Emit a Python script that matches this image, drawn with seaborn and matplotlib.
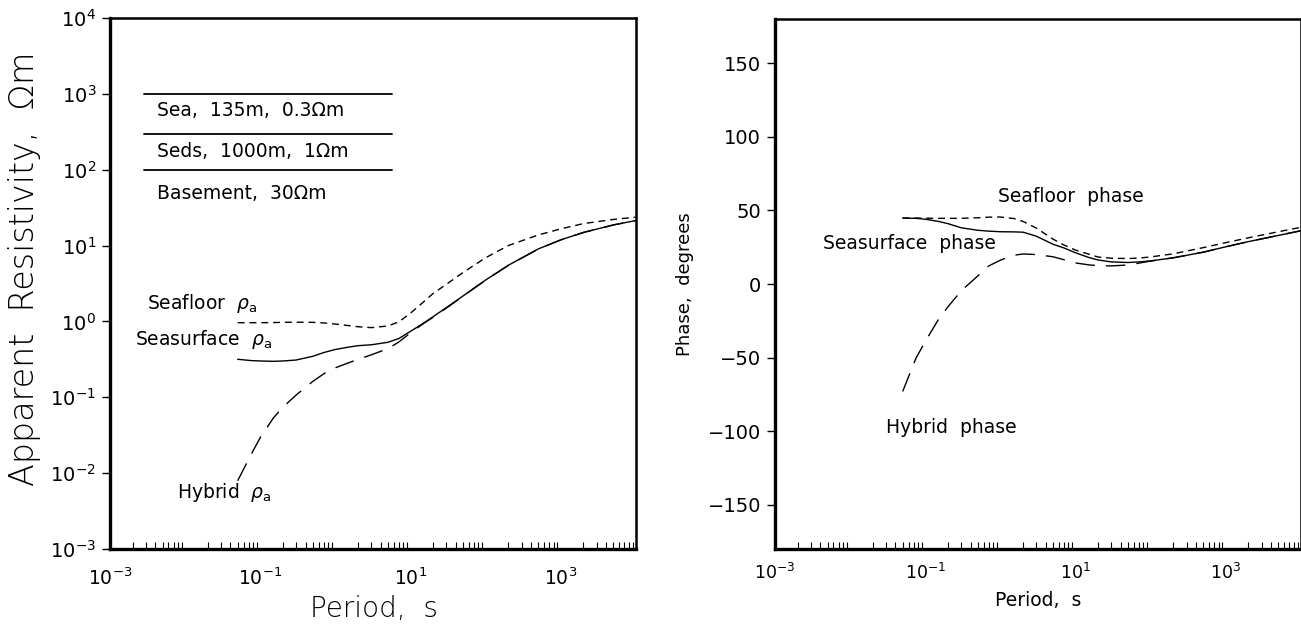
import matplotlib
matplotlib.use("Agg")
import matplotlib.pyplot as plt
import matplotlib.ticker as mticker
import numpy as np
import pandas as pd
import seaborn as sns

# ---------------- data ----------------
periods = [0.05, 0.075, 0.1, 0.15, 0.2, 0.3, 0.5, 0.7, 1, 1.5, 2, 3, 5, 7, 10,
           15, 20, 30, 50, 70, 100, 200, 500, 1000, 2000, 5000, 10000]

rho_seafloor = [0.962, 0.962, 0.962, 0.966, 0.973, 0.977, 0.973, 0.955, 0.923,
                0.881, 0.851, 0.828, 0.871, 0.989, 1.288, 1.82, 2.34, 3.09,
                4.42, 5.50, 6.92, 10.0, 13.8, 16.6, 19.5, 22.1, 23.7]
rho_seasurface = [0.317, 0.305, 0.301, 0.298, 0.301, 0.310, 0.347, 0.389, 0.427,
                  0.459, 0.479, 0.492, 0.531, 0.596, 0.741, 0.955, 1.156, 1.524,
                  2.17, 2.75, 3.52, 5.50, 9.02, 11.9, 14.9, 18.7, 21.4]
rho_hybrid = [0.00794, 0.0174, 0.0295, 0.0537, 0.0741, 0.107, 0.162, 0.204,
              0.245, 0.285, 0.316, 0.363, 0.437, 0.537, 0.708, 0.944, 1.135,
              1.50, 2.15, 2.73, 3.50, 5.48, 9.0, 11.9, 14.9, 18.7, 21.4]

phase_seafloor = [44.8, 44.8, 44.7, 44.6, 44.6, 44.6, 45.0, 45.4, 45.5, 44.5,
                  42.5, 38.0, 30.5, 26.5, 23.0, 20.3, 18.3, 17.5, 17.3, 17.6,
                  18.4, 20.5, 24.7, 28.1, 31.4, 35.5, 38.5]
phase_seasurface = [44.8, 44.6, 44.0, 42.5, 41.0, 38.2, 36.5, 35.9, 35.5, 35.4,
                    35.2, 32.5, 27.0, 24.5, 21.2, 18.0, 16.3, 15.0, 14.6, 15.0,
                    15.7, 17.8, 21.6, 25.3, 28.8, 33.0, 36.2]
phase_hybrid = [-73.0, -50.5, -39.0, -24.0, -15.5, -4.7, 5.5, 12.3, 16.2, 19.5,
                20.4, 20.0, 18.5, 16.5, 14.3, 13.0, 12.4, 12.3, 12.9, 14.2,
                15.6, 17.8, 21.6, 25.3, 28.8, 33.0, 36.2]

layer_boundaries = [1000, 300, 100]
layer_texts = ["Sea,  135m,  0.3\u03a9m", "Seds,  1000m,  1\u03a9m", "Basement,  30\u03a9m"]

res_ticks = [1e-3, 1e-2, 1e-1, 1e0, 1e1, 1e2, 1e3, 1e4]
period_ticks = [1e-3, 1e-1, 1e1, 1e3]
phase_ticks = [-150, -100, -50, 0, 50, 100, 150]

df = pd.DataFrame({
    "period": periods,
    "rho_seafloor": rho_seafloor, "rho_seasurface": rho_seasurface,
    "rho_hybrid": rho_hybrid,
    "ph_seafloor": phase_seafloor, "ph_seasurface": phase_seasurface,
    "ph_hybrid": phase_hybrid,
})

# ---------------- style ----------------
sns.set_style("white")
plt.rcParams["font.family"] = ["DejaVu Sans"]
plt.rcParams["mathtext.fontset"] = "dejavusans"
for key in ("text.color", "axes.labelcolor", "xtick.color", "ytick.color",
            "axes.edgecolor"):
    plt.rcParams[key] = "black"

W, H = 1301, 624
fig = plt.figure(figsize=(W / 100, H / 100), dpi=100)
ax1 = fig.add_axes([110 / W, 75 / H, 526 / W, 531 / H])
ax2 = fig.add_axes([775 / W, 75 / H, 526 / W, 530 / H])

short_dash = (0, (5, 3.5))
long_dash = (0, (14, 8))
lw = 1.0
txt_size = 13.5

# ---------------- left panel ----------------
sns.lineplot(data=df, x="period", y="rho_seafloor", ax=ax1, color="black",
             lw=lw, linestyle=short_dash, estimator=None, sort=False)
sns.lineplot(data=df, x="period", y="rho_seasurface", ax=ax1, color="black",
             lw=lw, linestyle="-", estimator=None, sort=False)
sns.lineplot(data=df, x="period", y="rho_hybrid", ax=ax1, color="black",
             lw=lw, linestyle=long_dash, estimator=None, sort=False)

ax1.set_xscale("log")
ax1.set_yscale("log")
ax1.set_xlim(1e-3, 1e4)
ax1.set_ylim(1e-3, 1e4)

for yb in layer_boundaries:
    ax1.axhline(yb, xmin=34 / 526, xmax=282 / 526, color="black", lw=1.3)
for txt, yf in zip(layer_texts, [0.825, 0.748, 0.669]):
    ax1.text(0.089, yf, txt, transform=ax1.transAxes, fontsize=txt_size,
             va="center", ha="left")

ax1.text(0.070, 0.463, r"Seafloor  $\rho_{\rm a}$", transform=ax1.transAxes,
         fontsize=txt_size, va="center", ha="left")
ax1.text(0.0475, 0.394, r"Seasurface  $\rho_{\rm a}$", transform=ax1.transAxes,
         fontsize=txt_size, va="center", ha="left")
ax1.text(0.127, 0.107, r"Hybrid  $\rho_{\rm a}$", transform=ax1.transAxes,
         fontsize=txt_size, va="center", ha="left")

ax1.set_ylabel("")
ax1.set_xlabel("")
fig.text(25 / W, 1 - 269 / H, "Apparent  Resistivity,  \u03a9m", fontsize=24,
         rotation=90, ha="center", va="center", fontweight="light")
fig.text(374 / W, 1 - 617 / H, "Period,  s", fontsize=20, ha="center",
         va="baseline", fontweight="light")

ax1.yaxis.set_major_locator(mticker.FixedLocator(res_ticks))
ax1.yaxis.set_minor_locator(mticker.NullLocator())
ax1.yaxis.set_major_formatter(mticker.LogFormatterSciNotation())
ax1.xaxis.set_major_locator(mticker.FixedLocator(period_ticks))
ax1.xaxis.set_major_formatter(mticker.LogFormatterSciNotation())

# ---------------- right panel ----------------
sns.lineplot(data=df, x="period", y="ph_seafloor", ax=ax2, color="black",
             lw=lw, linestyle=short_dash, estimator=None, sort=False)
sns.lineplot(data=df, x="period", y="ph_seasurface", ax=ax2, color="black",
             lw=lw, linestyle="-", estimator=None, sort=False)
sns.lineplot(data=df, x="period", y="ph_hybrid", ax=ax2, color="black",
             lw=lw, linestyle=long_dash, estimator=None, sort=False)

ax2.set_xscale("log")
ax2.set_xlim(1e-3, 1e4)
ax2.set_ylim(-180, 180)
ax2.yaxis.set_major_locator(mticker.FixedLocator(phase_ticks))
ax2.xaxis.set_major_locator(mticker.FixedLocator(period_ticks))
ax2.xaxis.set_major_formatter(mticker.LogFormatterSciNotation())

ax2.text(0.424, 0.666, "Seafloor  phase", transform=ax2.transAxes,
         fontsize=txt_size, va="center", ha="left")
ax2.text(0.091, 0.577, "Seasurface  phase", transform=ax2.transAxes,
         fontsize=txt_size, va="center", ha="left")
ax2.text(0.211, 0.230, "Hybrid  phase", transform=ax2.transAxes,
         fontsize=txt_size, va="center", ha="left")

ax2.set_ylabel("Phase,  degrees", fontsize=13, labelpad=10)
ax2.set_xlabel("")
fig.text(1038 / W, 1 - 606 / H, "Period,  s", fontsize=13.5, ha="center",
         va="baseline")

for ax, xsize, xpad in ((ax1, 13.5, 13), (ax2, 12.5, 10)):
    ax.xaxis.set_minor_locator(mticker.LogLocator(base=10, subs=np.arange(2, 10), numticks=50))
    ax.xaxis.set_minor_formatter(mticker.NullFormatter())
    ax.tick_params(axis="x", which="major", length=0, labelsize=xsize, pad=xpad)
    ax.tick_params(axis="x", which="minor", direction="in", length=5, width=0.8,
                   bottom=True, top=False)
    ax.tick_params(axis="y", which="major", direction="out", length=6, width=1.0,
                   labelsize=14, left=True, right=False, pad=4)
    for name, s in ax.spines.items():
        s.set_linewidth(2.4 if name in ("left", "bottom") else 1.8)
        s.set_color("black")
    ax.grid(False)

fig.savefig("out.png", dpi=100, facecolor="white")
